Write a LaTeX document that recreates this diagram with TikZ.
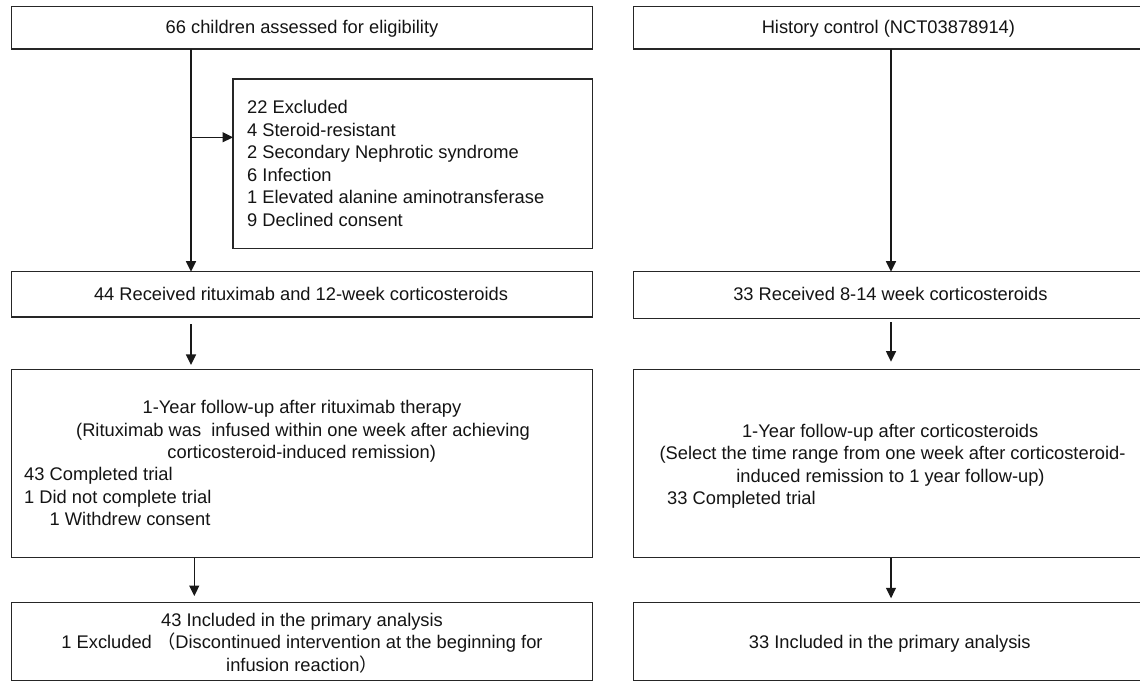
\documentclass[tikz,border=0pt]{standalone}
\usepackage{fontspec}
\setmainfont{Liberation Sans}
\newfontfamily\cjkfont{Noto Sans CJK SC}
\usetikzlibrary{arrows.meta}
\tikzset{
  boxnode/.style={draw=black!85, line width=1.3pt, inner sep=0pt, outer sep=0pt, rectangle},
  txt/.style={anchor=base, inner sep=0pt, text=black!92, font=\fontsize{18.3}{22.4}\selectfont},
  txtl/.style={txt, anchor=base west},
  arr/.style={draw=black!90, line width=1.3pt, -{Triangle[length=10.5pt,width=10pt]}},
}
\begin{document}
\begin{tikzpicture}[x=1pt,y=-1pt]
\useasboundingbox (0,0) rectangle (1140,682);
\clip (0,0) rectangle (1140,682);
\fill[white] (0,0) rectangle (1140,682);

% boxes
\node[boxnode, minimum width=580.6pt, minimum height=42.3pt] (tL) at (302,27.85) {};
\node[boxnode, minimum width=509.7pt, minimum height=42.3pt] (tR) at (888.15,27.85) {};
\node[boxnode, minimum width=359.3pt, minimum height=169.3pt] (ex) at (412.65,163.65) {};
\node[boxnode, minimum width=580.6pt, minimum height=45.3pt] (rL) at (302,294.35) {};
\node[boxnode, minimum width=509.7pt, minimum height=46.6pt] (rR) at (888.15,295) {};
\node[boxnode, minimum width=580.6pt, minimum height=188.3pt] (fL) at (302,463.4) {};
\node[boxnode, minimum width=509.7pt, minimum height=188.3pt] (fR) at (888.15,463.4) {};
\node[boxnode, minimum width=580.6pt, minimum height=78pt] (aL) at (302,641.7) {};
\node[boxnode, minimum width=509.7pt, minimum height=77.6pt] (aR) at (888.15,641.5) {};

% texts
\node[txt] (t1) at (302,33.8) {66 children assessed for eligibility};
\node[txt] (t2) at (888.4,33.8) {History control (NCT03878914)};

\node[txtl] (e1) at (247,113.8) {22 Excluded};
\node[txtl] (e2) at (247,136.3) {4 Steroid-resistant};
\node[txtl] (e3) at (247,158.8) {2 Secondary Nephrotic syndrome};
\node[txtl] (e4) at (247,181.3) {6 Infection};
\node[txtl] (e5) at (247,203.8) {1 Elevated alanine aminotransferase};
\node[txtl] (e6) at (247,226.3) {9 Declined consent};

\node[txt] (r1) at (301,300) {44 Received rituximab and 12-week corticosteroids};
\node[txt] (r2) at (890.4,300.5) {33 Received 8-14 week corticosteroids};

\node[txt] (f1) at (302,413.8) {1-Year follow-up after rituximab therapy};
\node[txt] (f2) at (303,436.15) {(Rituximab was\ \ infused within one week after achieving};
\node[txt] (f3) at (301.7,458.5) {corticosteroid-induced remission)};
\node[txtl] (f4) at (24,480.85) {43 Completed trial};
\node[txtl] (f5) at (24,503.2) {1 Did not complete trial};
\node[txtl] (f6) at (49.5,525.55) {1 Withdrew consent};

\node[txt] (g1) at (890.2,437.2) {1-Year follow-up after corticosteroids};
\node[txt] (g2) at (892.5,459.6) {(Select the time range from one week after corticosteroid-};
\node[txt] (g3) at (890.5,482) {induced remission to 1 year follow-up)};
\node[txtl] (g4) at (667,504.4) {33 Completed trial};

\node[txt] (h1) at (302,626.5) {43 Included in the primary analysis};
\node[txt] (h2) at (302,648.85) {1 Excluded {\cjkfont （}Discontinued intervention at the beginning for};
\node[txt] (h3) at (302,671.2) {infusion reaction{\cjkfont ）}};
\node[txt] (k1) at (889.8,648.2) {33 Included in the primary analysis};

% connectors
\coordinate (xa) at (191,0);
\coordinate (xb) at (194.3,0);
\coordinate (xc) at (891,0);
\coordinate (br) at (191,137.3);
\draw[arr] (xa |- tL.south) -- (xa |- rL.north);
\draw[arr] (br) -- (br -| ex.west);
\draw[arr, shorten <=7pt, shorten >=4.3pt] (xa |- rL.south) -- (xa |- fL.north);
\draw[arr, shorten >=6.7pt] (xb |- fL.south) -- (xb |- aL.north);
\draw[arr] (xc |- tR.south) -- (xc |- rR.north);
\draw[arr, shorten <=4pt, shorten >=7.6pt] (xc |- rR.south) -- (xc |- fR.north);
\draw[arr, shorten >=4.4pt] (xc |- fR.south) -- (xc |- aR.north);
\end{tikzpicture}
\end{document}
